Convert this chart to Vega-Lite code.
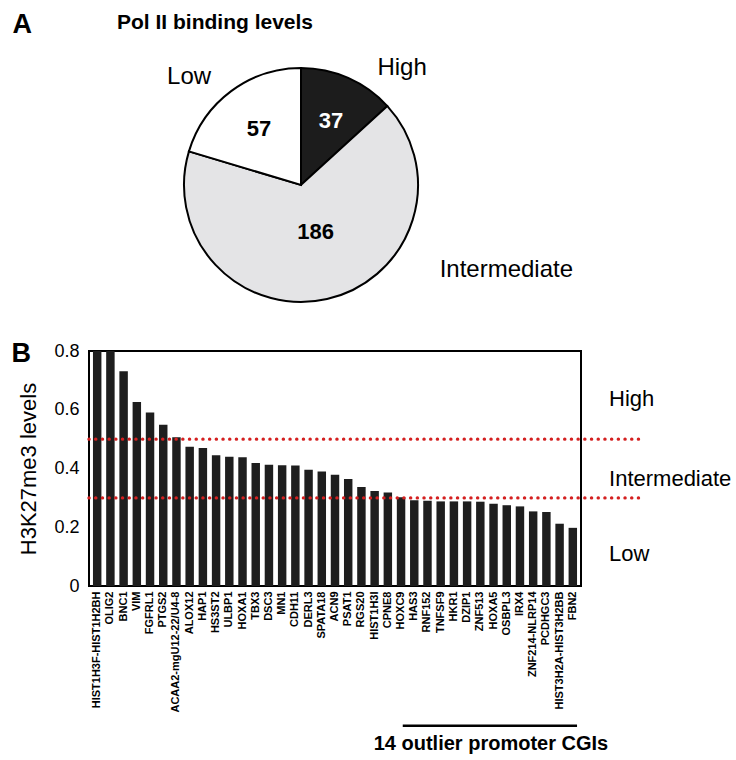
{
  "$schema": "https://vega.github.io/schema/vega-lite/v6.json",
  "padding": {"left": 10, "top": 11, "right": 0, "bottom": 0},
  "autosize": {"type": "pad"},
  "title": {"text": "A", "anchor": "start", "frame": "bounds", "dx": 2, "offset": -27, "fontSize": 27, "fontWeight": "bold", "color": "black"},
  "spacing": 20,
  "datasets": {
    "pie": [
      {"level": "High", "count": 37},
      {"level": "Intermediate", "count": 186},
      {"level": "Low", "count": 57}
    ],
    "genes": [
      {"gene": "HIST1H3F-HIST1H2BH", "value": 0.8},
      {"gene": "OLIG2", "value": 0.8},
      {"gene": "BNC1", "value": 0.731},
      {"gene": "VIM", "value": 0.626},
      {"gene": "FGFRL1", "value": 0.591},
      {"gene": "PTGS2", "value": 0.549},
      {"gene": "ACAA2-mgU12-22/U4-8", "value": 0.506},
      {"gene": "ALOX12", "value": 0.474},
      {"gene": "HAP1", "value": 0.47},
      {"gene": "HS3ST2", "value": 0.445},
      {"gene": "ULBP1", "value": 0.44},
      {"gene": "HOXA1", "value": 0.438},
      {"gene": "TBX3", "value": 0.419},
      {"gene": "DSC3", "value": 0.413},
      {"gene": "MN1", "value": 0.411},
      {"gene": "CDH11", "value": 0.41},
      {"gene": "DERL3", "value": 0.396},
      {"gene": "SPATA18", "value": 0.39},
      {"gene": "ACN9", "value": 0.379},
      {"gene": "PSAT1", "value": 0.364},
      {"gene": "RGS20", "value": 0.337},
      {"gene": "HIST1H3I", "value": 0.323},
      {"gene": "CPNE8", "value": 0.318},
      {"gene": "HOXC9", "value": 0.302},
      {"gene": "HAS3", "value": 0.292},
      {"gene": "RNF152", "value": 0.29},
      {"gene": "TNFSF9", "value": 0.288},
      {"gene": "HKR1", "value": 0.288},
      {"gene": "DZIP1", "value": 0.288},
      {"gene": "ZNF513", "value": 0.287},
      {"gene": "HOXA5", "value": 0.28},
      {"gene": "OSBPL3", "value": 0.275},
      {"gene": "IRX4", "value": 0.271},
      {"gene": "ZNF214-NLRP14", "value": 0.254},
      {"gene": "PCDHGC3", "value": 0.252},
      {"gene": "HIST3H2A-HIST3H2BB", "value": 0.212},
      {"gene": "FBN2", "value": 0.198}
    ],
    "cuts": [
      {"threshold": 0.5},
      {"threshold": 0.3}
    ],
    "levels": [
      {"level": "High"},
      {"level": "Intermediate"},
      {"level": "Low"}
    ],
    "annot": [
      {"label": "14 outlier promoter CGIs", "first": "HOXC9", "last": "FBN2"}
    ]
  },
  "vconcat": [
    {
      "width": 424,
      "height": 268,
      "title": {"text": "Pol II binding levels", "anchor": "start", "frame": "group", "dx": 28, "offset": 18, "fontSize": 21, "fontWeight": "bold", "color": "black"},
      "data": {"name": "pie"},
      "layer": [
        {
          "mark": {"type": "arc", "outerRadius": 117, "stroke": "black", "strokeWidth": 2},
          "encoding": {
            "theta": {"field": "count", "type": "quantitative", "stack": true},
            "order": {"field": "level", "type": "ordinal"},
            "color": {"field": "level", "type": "nominal", "scale": {"domain": ["High", "Intermediate", "Low"], "range": ["#1c1c1c", "#e4e4e6", "#ffffff"]}, "legend": null}
          }
        },
        {
          "mark": {"type": "text", "radius": 72, "dx": 1, "dy": 2, "fontSize": 22, "fontWeight": "bold"},
          "encoding": {
            "theta": {"field": "count", "type": "quantitative", "stack": true},
            "order": {"field": "level", "type": "ordinal"},
            "text": {"condition": {"test": "datum.level !== 'Intermediate'", "field": "count", "type": "quantitative"}, "value": ""},
            "color": {"condition": {"test": "datum.level === 'High'", "value": "white"}, "value": "black"}
          }
        },
        {
          "mark": {"type": "text", "radius": 48, "dx": 4, "dy": 0, "fontSize": 22, "fontWeight": "bold", "color": "black"},
          "encoding": {
            "theta": {"field": "count", "type": "quantitative", "stack": true},
            "order": {"field": "level", "type": "ordinal"},
            "text": {"condition": {"test": "datum.level === 'Intermediate'", "field": "count", "type": "quantitative"}, "value": ""}
          }
        },
        {
          "mark": {"type": "text", "radius": 40, "dx": 85, "dy": -80, "fontSize": 24, "color": "black"},
          "encoding": {
            "theta": {"field": "count", "type": "quantitative", "stack": true},
            "order": {"field": "level", "type": "ordinal"},
            "text": {"condition": {"test": "datum.level === 'High'", "field": "level", "type": "nominal"}, "value": ""}
          }
        },
        {
          "mark": {"type": "text", "radius": 40, "dx": -88, "dy": -76, "fontSize": 24, "color": "black"},
          "encoding": {
            "theta": {"field": "count", "type": "quantitative", "stack": true},
            "order": {"field": "level", "type": "ordinal"},
            "text": {"condition": {"test": "datum.level === 'Low'", "field": "level", "type": "nominal"}, "value": ""}
          }
        },
        {
          "mark": {"type": "text", "radius": 60, "dx": 192, "dy": 27, "fontSize": 24, "color": "black"},
          "encoding": {
            "theta": {"field": "count", "type": "quantitative", "stack": true},
            "order": {"field": "level", "type": "ordinal"},
            "text": {"condition": {"test": "datum.level === 'Intermediate'", "field": "level", "type": "nominal"}, "value": ""}
          }
        }
      ]
    },
    {
      "width": 492,
      "height": 235,
      "title": {"text": "B", "anchor": "start", "frame": "bounds", "dx": -6.6, "offset": -26, "fontSize": 27, "fontWeight": "bold", "color": "black"},
      "view": {"stroke": "black", "strokeWidth": 2},
      "layer": [
        {
          "layer": [
            {
              "data": {"name": "genes"},
              "mark": {"type": "bar", "color": "#1e1e1e", "clip": true},
              "encoding": {
                "x": {
                  "field": "gene", "type": "nominal", "sort": null,
                  "scale": {"paddingInner": 0.36, "paddingOuter": 0.3},
                  "axis": {"title": null, "labelAngle": -90, "labelFontSize": 11, "labelFontWeight": "bold", "labelPadding": 5, "ticks": false, "tickSize": 0, "domain": false, "labelColor": "black"}
                },
                "y": {
                  "field": "value", "type": "quantitative",
                  "scale": {"domain": [0, 0.8]},
                  "axis": {"title": "H3K27me3 levels", "titleFontSize": 22, "titleFontWeight": "normal", "titlePadding": 13, "labelFontSize": 18, "labelPadding": 10, "ticks": false, "tickSize": 0, "domain": false, "values": [0, 0.2, 0.4, 0.6, 0.8], "format": ".1~f", "labelFlush": false, "labelOverlap": false, "labelColor": "black", "titleColor": "black"}
                }
              }
            },
            {
              "data": {"name": "annot"},
              "mark": {"type": "rule", "strokeWidth": 2.5, "color": "black", "clip": false},
              "encoding": {
                "x": {"field": "first", "type": "nominal", "sort": null, "bandPosition": 0.7},
                "x2": {"field": "last", "bandPosition": 1},
                "y": {"datum": -0.4756, "scale": {"domain": [0, 0.8]}}
              }
            }
          ]
        },
        {
          "layer": [
            {
              "data": {"name": "cuts"},
              "mark": {"type": "rule", "color": "#d42020", "strokeWidth": 3.4, "strokeDash": [0.1, 6.6], "strokeCap": "round", "clip": false},
              "encoding": {
                "x": {"datum": 0, "type": "quantitative", "scale": {"domain": [0, 1], "nice": false, "zero": false}, "axis": null},
                "x2": {"datum": 1.118},
                "y": {"field": "threshold", "type": "quantitative", "scale": {"domain": [0, 0.8]}}
              }
            },
            {
              "data": {"name": "annot"},
              "mark": {"type": "text", "fontSize": 20, "fontWeight": "bold", "color": "black", "baseline": "alphabetic", "align": "center", "clip": false},
              "encoding": {
                "x": {"datum": 0.817, "type": "quantitative", "scale": {"domain": [0, 1], "nice": false, "zero": false}, "axis": null},
                "y": {"datum": -0.558, "scale": {"domain": [0, 0.8]}},
                "text": {"field": "label", "type": "nominal"}
              }
            },
            {
              "data": {"name": "levels"},
              "transform": [{"filter": "datum.level === 'High'"}],
              "mark": {"type": "text", "fontSize": 22, "color": "black", "align": "left", "baseline": "alphabetic", "clip": false},
              "encoding": {
                "x": {"datum": 1.057, "type": "quantitative", "scale": {"domain": [0, 1], "nice": false, "zero": false}, "axis": null},
                "y": {"datum": 0.613, "scale": {"domain": [0, 0.8]}},
                "text": {"field": "level", "type": "nominal"}
              }
            },
            {
              "data": {"name": "levels"},
              "transform": [{"filter": "datum.level === 'Intermediate'"}],
              "mark": {"type": "text", "fontSize": 22, "color": "black", "align": "left", "baseline": "alphabetic", "clip": false},
              "encoding": {
                "x": {"datum": 1.057, "type": "quantitative", "scale": {"domain": [0, 1], "nice": false, "zero": false}, "axis": null},
                "y": {"datum": 0.34, "scale": {"domain": [0, 0.8]}},
                "text": {"field": "level", "type": "nominal"}
              }
            },
            {
              "data": {"name": "levels"},
              "transform": [{"filter": "datum.level === 'Low'"}],
              "mark": {"type": "text", "fontSize": 22, "color": "black", "align": "left", "baseline": "alphabetic", "clip": false},
              "encoding": {
                "x": {"datum": 1.057, "type": "quantitative", "scale": {"domain": [0, 1], "nice": false, "zero": false}, "axis": null},
                "y": {"datum": 0.085, "scale": {"domain": [0, 0.8]}},
                "text": {"field": "level", "type": "nominal"}
              }
            }
          ]
        }
      ],
      "resolve": {"scale": {"x": "independent"}, "axis": {"x": "independent"}}
    }
  ],
  "config": {
    "font": "Liberation Sans",
    "view": {"stroke": null},
    "axis": {"grid": false, "labelColor": "black", "titleColor": "black"},
    "title": {"color": "black", "font": "Liberation Sans"}
  }
}
